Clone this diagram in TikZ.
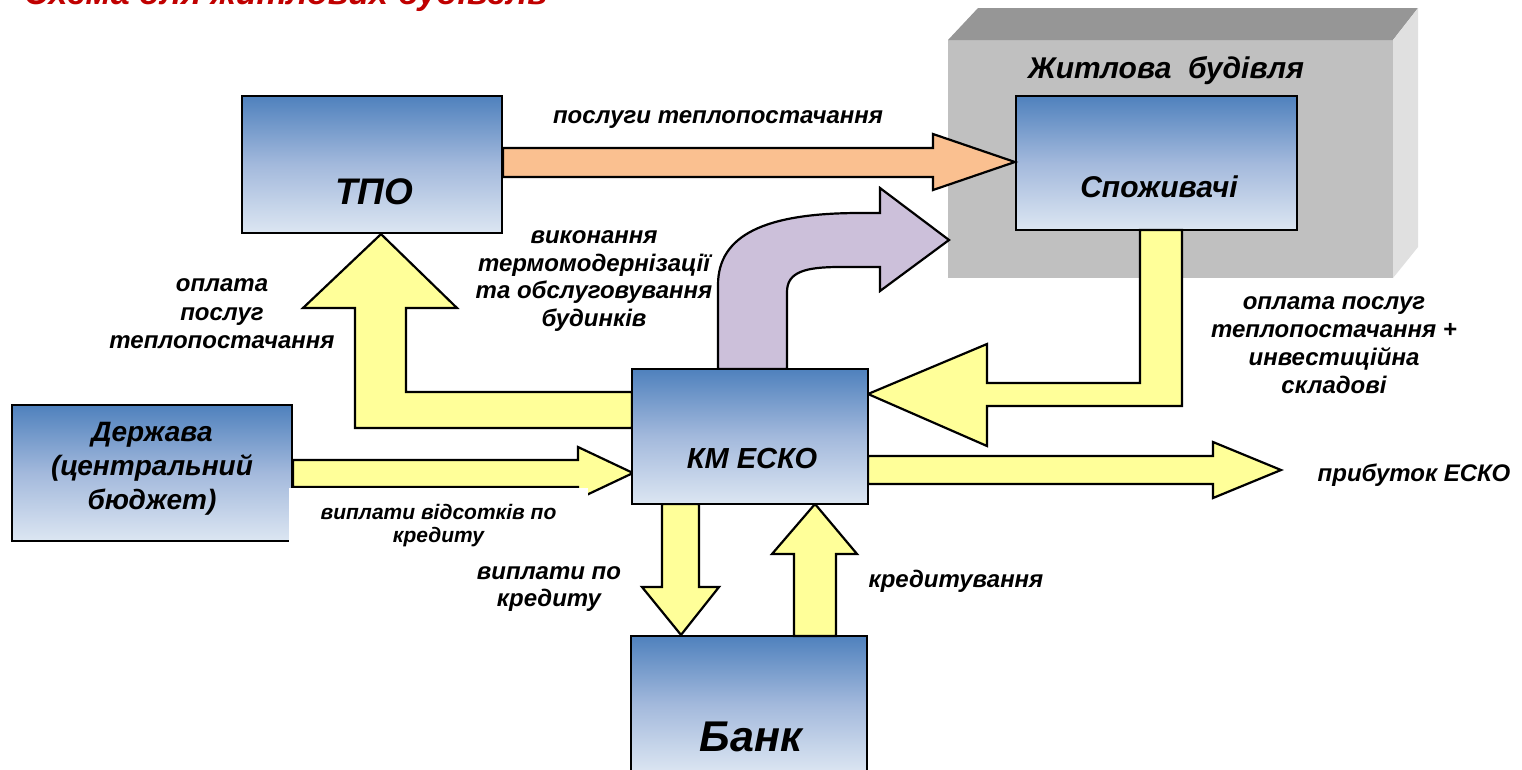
\documentclass[tikz,border=0pt]{standalone}
\usepackage{fontspec}
\setmainfont{Liberation Sans}
\newcommand\myfs[2]{\fontsize{#1}{#2}\selectfont}
\definecolor{boxtop}{HTML}{4F81BD}
\definecolor{boxmid}{HTML}{A3B9DC}
\definecolor{boxbot}{HTML}{DCE6F2}
\definecolor{yel}{HTML}{FFFF99}
\definecolor{orng}{HTML}{FAC090}
\definecolor{purp}{HTML}{CCC0DA}
\definecolor{bfront}{HTML}{C0C0C0}
\definecolor{btop}{HTML}{969696}
\definecolor{bside}{HTML}{E0E0E0}
\definecolor{titlered}{HTML}{C00000}
\tikzset{
  box/.style={draw=black, line width=2.2pt, inner sep=0pt, shading=axis,
    top color=boxtop, bottom color=boxbot, middle color=boxmid},
  boxtext/.style={font=\bfseries\itshape, inner sep=0pt, align=center},
  lbl/.style={font=\bfseries\itshape\myfs{24}{27.8}, inner sep=0pt, align=center},
  blockarrow/.style={draw=black, line width=2.2pt, line join=miter},
}
\begin{document}
\begin{tikzpicture}[x=1pt,y=-1pt]
\useasboundingbox (0,0) rectangle (1522,769);
\clip (0,0) rectangle (1522,769);
\fill[white] (0,0) rectangle (1522,769);

% title (cut at top)
\node[anchor=base west, inner sep=0pt, text=titlered, font=\bfseries\itshape\myfs{34}{40}] (title) at (24,4) {Схема для житлових будівель};

% building
\fill[bfront] (948,40) rectangle (1393,278);
\fill[btop] (948,40) -- (978,8) -- (1418,8) -- (1393,40) -- cycle;
\fill[bside] (1393,40) -- (1418,8) -- (1418,247) -- (1393,278) -- cycle;
\node[boxtext, font=\bfseries\itshape\myfs{30}{34}] (building) at (1166,71) {Житлова\ \ будівля};

% boxes
\node[box, minimum width=260pt, minimum height=137pt] (tpo) at (372,164.5) {};
\node[box, minimum width=281pt, minimum height=134pt] (spoz) at (1156.5,163) {};
\node[box, minimum width=280pt, minimum height=136pt] (derzh) at (152,473) {};
\node[box, minimum width=236pt, minimum height=137pt] (bank) at (749,704.5) {};

% arrows
\draw[blockarrow, fill=orng] (tpo.east |- 0,148) -- (933,148) -- (933,134) -- (spoz.west |- 0,162) -- (933,190) -- (933,177) -- (tpo.east |- 0,177) -- cycle;
\draw[blockarrow, fill=purp] (718,369) -- (718,285) .. controls (718,235) and (765,213) .. (860,213) -- (880,213) -- (880,188) -- (949,240) -- (880,291) -- (880,267) -- (840,267) .. controls (805,267) and (787,272) .. (787,292) -- (787,369) -- cycle;
\draw[blockarrow, fill=yel] (632,392) -- (406,392) -- (406,308) -- (457,308) -- (tpo.south -| 381,0) -- (303,308) -- (355,308) -- (355,428) -- (632,428) -- cycle;
\draw[blockarrow, fill=yel] (1140,230) -- (1140,383) -- (987,383) -- (987,344) -- (868,394) -- (987,446) -- (987,406) -- (1182,406) -- (1182,230) -- cycle;
\draw[blockarrow, fill=yel] (derzh.east |- 0,460) -- (578,460) -- (578,447) -- (633,473) -- (578,499) -- (578,487) -- (derzh.east |- 0,487) -- cycle;
\draw[blockarrow, fill=yel] (868,456) -- (1213,456) -- (1213,442) -- (1281,470) -- (1213,498) -- (1213,484) -- (868,484) -- cycle;
\draw[blockarrow, fill=yel] (662,504) -- (662,587) -- (642,587) -- (bank.north -| 681,0) -- (719,587) -- (699,587) -- (699,504) -- cycle;
\draw[blockarrow, fill=yel] (794,636) -- (794,554) -- (772,554) -- (815,504) -- (857,554) -- (836,554) -- (836,636) -- cycle;

\node[box, minimum width=236pt, minimum height=135pt] (esko) at (750,436.5) {};

% box texts
\node[boxtext, font=\bfseries\itshape\myfs{37}{42}] (tpoT) at (374,192) {ТПО};
\node[boxtext, font=\bfseries\itshape\myfs{30}{34}] (spozT) at (1159,187) {Споживачі};
\node[boxtext, font=\bfseries\itshape\myfs{29}{33}] (eskoT) at (752,459) {КМ ЕСКО};
\node[boxtext, font=\bfseries\itshape\myfs{43}{48}] (bankT) at (751,737) {Банк};
\node[boxtext, font=\bfseries\itshape\myfs{28}{34}] (derzhT) at (152,469) {Держава\\(центральний\\бюджет)};

% labels
\node[lbl] (l1) at (718,120) {послуги теплопостачання};
\node[lbl] (l2) at (594,281) {виконання\\термомодернізації\\та обслуговування\\будинків};
\node[lbl, font=\bfseries\itshape\myfs{24}{28.5}] (l3) at (222,314) {оплата\\послуг\\теплопостачання};
\node[lbl] (l4) at (1334,345) {оплата послуг\\теплопостачання +\\инвестиційна\\складові};
\node[lbl] (l5) at (1414,475) {прибуток ЕСКО};
\node[lbl] (l6) at (956,581) {кредитування};
\node[lbl, font=\bfseries\itshape\myfs{24}{27}] (l7) at (549,589) {виплати по\\кредиту};
\node[lbl, font=\bfseries\itshape\myfs{21}{23}, fill=white, minimum width=299pt, minimum height=76pt] (l8) at (438.5,526) {виплати відсотків по\\кредиту};
\end{tikzpicture}
\end{document}
